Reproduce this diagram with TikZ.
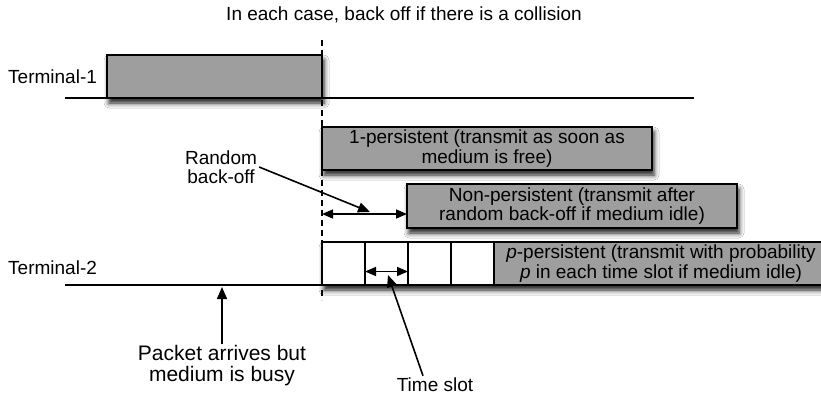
\documentclass[tikz,border=0pt]{standalone}
\usepackage{fontspec}
\setmainfont{Liberation Sans}
\usetikzlibrary{arrows.meta,shadows.blur}
\definecolor{boxgray}{RGB}{158,158,158}
\begin{document}
\begin{tikzpicture}[x=1pt,y=-1pt,
  every node/.style={font=\fontsize{19}{19.5}\selectfont},
  rule/.style={line width=1.6pt},
  frame/.style={draw=black, line width=1.6pt, inner sep=0pt, outer sep=0pt, anchor=north west},
  soft/.style={blur shadow={shadow xshift=2pt, shadow yshift=-5pt, shadow blur radius=5pt, shadow opacity=90}},
  gbox/.style={frame, fill=boxgray, soft, align=center},
  slot/.style={frame, fill=white, minimum width=43, minimum height=43},
  tip/.style={rule, -{Triangle[length=12pt,width=10pt]}},
  dbl/.style={rule, {Triangle[length=11pt,width=9pt]}-{Triangle[length=11pt,width=9pt]}},
  lbl/.style={align=center, inner sep=2pt}
]
\useasboundingbox (0,0) rectangle (821,396);
\fill[white] (0,0) rectangle (821,396);

% heading
\node (title) at (404,15) {In each case, back off if there is a collision};

% collision instant
\coordinate (dtop) at (322,40);
\coordinate (dbot) at (322,300);
\draw[rule, dash pattern=on 6pt off 4pt] (dtop) -- (dbot);

% terminal 1
\node[anchor=west, inner sep=0pt] (t1) at (8,77) {Terminal-1};
\coordinate (t1a) at (65,98);
\coordinate (t1b) at (694,98);
\draw[rule] (t1a) -- (t1b);
\node[gbox, minimum width=215, minimum height=43] (t1box) at (107,55) {};

% strategies
\node[gbox, minimum width=330, minimum height=43] (one) at (322,127)
  {1-persistent (transmit as soon as\\medium is free)};
\node[gbox, minimum width=330, minimum height=44] (np) at (407,184)
  {Non-persistent (transmit after\\random back-off if medium idle)};

% random back-off
\node[lbl] (rb) at (221,167) {Random\\back-off};
\draw[dbl] ([yshift=-8pt]np.west -| one.west) -- ([yshift=-8pt]np.west);
\coordinate (rbtip) at (370,212);
\draw[tip] (rb.east) -- (rbtip);

% terminal 2
\node[anchor=west, inner sep=0pt] (t2) at (8,268) {Terminal-2};
\coordinate (t2a) at (65,285);
\draw[rule] (t2a) -- (322,285);
\node[frame, fill=white, soft, minimum width=506, minimum height=43] (row) at (322,242) {};
\node[slot] (s1) at (322,242) {};
\node[slot] (s2) at (365,242) {};
\node[slot] (s3) at (408,242) {};
\node[slot] (s4) at (451,242) {};
\node[frame, fill=boxgray, minimum width=334, minimum height=43, align=center] (pp) at (494,242)
  {\textit{p}-persistent (transmit with probability\\\textit{p} in each time slot if medium idle)};
\draw[dbl] ([yshift=-8pt]s2.west) -- ([yshift=-8pt]s2.east);

% annotations
\node[lbl, font=\fontsize{21}{21}\selectfont] (pk) at (222,366) {Packet arrives but\\medium is busy};
\coordinate (pktip) at (222,287);
\draw[tip] (pk.north) -- (pktip);

\node[lbl] (ts) at (435,385) {Time slot};
\coordinate (tstip) at (388,275);
\draw[tip] ([xshift=-12pt]ts.north) -- (tstip);
\end{tikzpicture}
\end{document}
